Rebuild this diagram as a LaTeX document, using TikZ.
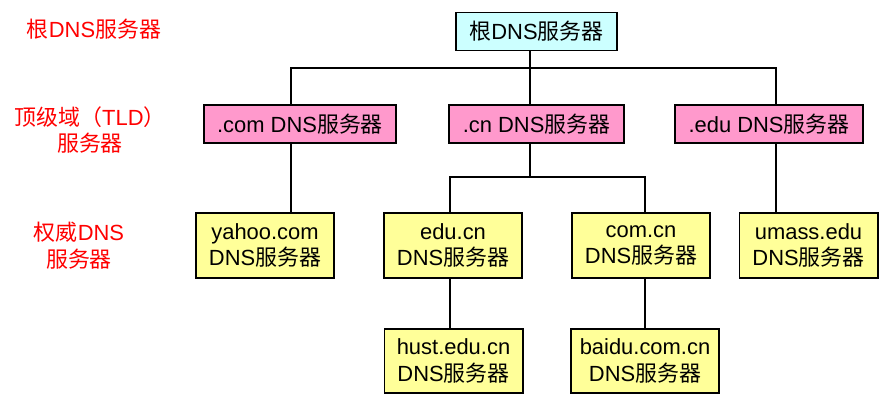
\documentclass[tikz,border=0pt]{standalone}
\usepackage{fontspec}
\setmainfont{Liberation Sans}
\newfontfamily\cjk{Noto Sans CJK SC}
\newcommand{\fwq}{{\cjk 服务器}}
\definecolor{raizc}{HTML}{CCFFFF}
\definecolor{tldc}{HTML}{FF99CC}
\definecolor{autc}{HTML}{FFFF99}

\begin{document}
\begin{tikzpicture}[x=0.025cm,y=-0.025cm,line width=1.4pt,
  caja/.style={draw,inner xsep=9.5pt,inner ysep=2pt,minimum height=0.95cm,align=center,font=\fontsize{15.6}{19}\selectfont},
  raiz/.style={caja,fill=raizc},
  tld/.style={caja,fill=tldc},
  aut/.style={caja,fill=autc,minimum width=3.45cm,minimum height=1.62cm,inner xsep=6pt},
  nivel/.style={red,align=center,font=\fontsize{15.6}{19}\selectfont}]
  \useasboundingbox (0,0) rectangle (888,405);
  % niveles
  \node[nivel] (lraiz) at (94,29) {{\cjk 根}DNS\fwq};
  \node[nivel] (ltld) at (90,130) {{\cjk 顶级域（}TLD{\cjk ）}\\\fwq};
  \node[nivel] (laut) at (79,246) {{\cjk 权威}DNS\\\fwq};
  % servidores
  \node[raiz] (root) at (536.5,31.5) {{\cjk 根}DNS\fwq};
  \node[tld] (com) at (300,124) {.com DNS\fwq};
  \node[tld] (cn) at (536.5,124) {.cn DNS\fwq};
  \node[tld] (edu) at (769,124) {.edu DNS\fwq};
  \node[aut] (yahoo) at (265,245.5) {yahoo.com\\DNS\fwq};
  \node[aut] (educn) at (453,245.5) {edu.cn\\DNS\fwq};
  \node[aut] (comcn) at (641,245.5) {com.cn\\DNS\fwq};
  \node[aut] (umass) at (808.5,245.5) {umass.edu\\DNS\fwq};
  \node[aut] (hust) at (453.5,361) {hust.edu.cn\\DNS\fwq};
  \node[aut] (baidu) at (645,361) {baidu.com.cn\\DNS\fwq};
  % lineas
  \coordinate (xa) at (291,0);
  \coordinate (xc) at (776,0);
  \coordinate (xd) at (450,0);
  \coordinate (xe) at (645,0);
  \coordinate (bus1) at (530,68);
  \coordinate (bus2) at (530,177);
  \draw (root.south -| bus1) -- (bus1) -- (cn.north -| bus1);
  \draw (com.north -| xa) |- (bus1) -| (edu.north -| xc);
  \draw (cn.south -| bus2) -- (bus2);
  \draw (educn.north -| xd) |- (bus2) -| (comcn.north -| xe);
  \draw (com.south -| xa) -- (yahoo.north -| xa);
  \draw (edu.south -| xc) -- (umass.north -| xc);
  \draw (educn.south -| xd) -- (hust.north -| xd);
  \draw (comcn.south -| xe) -- (baidu.north -| xe);
\end{tikzpicture}
\end{document}
